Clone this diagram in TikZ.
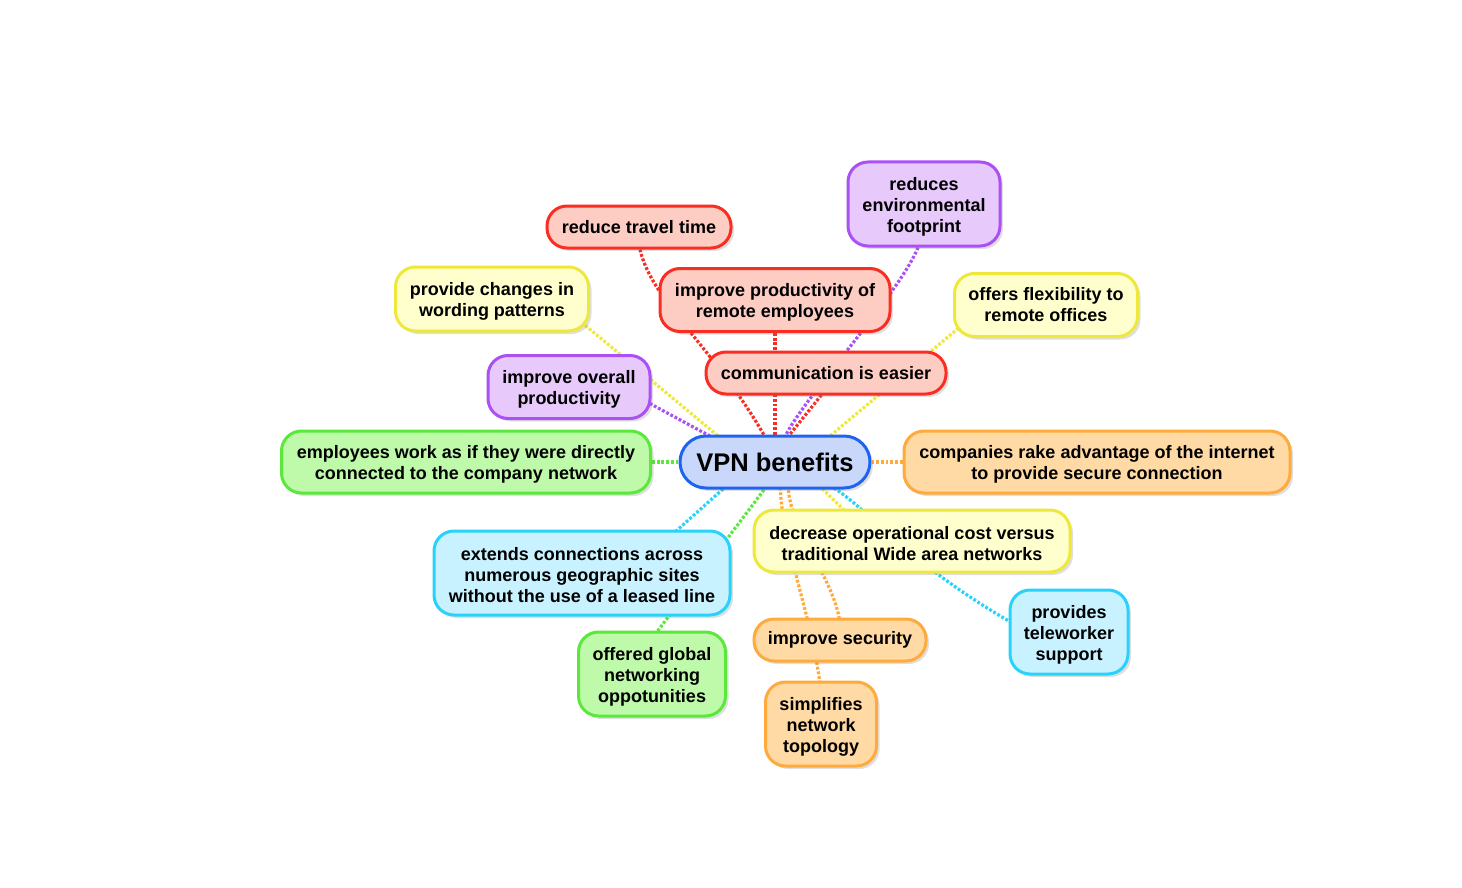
\documentclass[tikz,border=0pt]{standalone}
\usepackage{fontspec}
\setmainfont{Liberation Sans}
\usetikzlibrary{backgrounds,shadows}
\definecolor{redB}{RGB}{250,45,35}
\definecolor{redF}{RGB}{253,205,196}
\definecolor{purB}{RGB}{170,80,245}
\definecolor{purF}{RGB}{231,202,251}
\definecolor{yelB}{RGB}{238,232,60}
\definecolor{yelF}{RGB}{255,255,205}
\definecolor{grnB}{RGB}{90,232,60}
\definecolor{grnF}{RGB}{190,250,170}
\definecolor{oraB}{RGB}{255,170,60}
\definecolor{oraF}{RGB}{255,218,165}
\definecolor{cyaB}{RGB}{40,210,250}
\definecolor{cyaF}{RGB}{200,242,255}
\definecolor{bluB}{RGB}{30,100,240}
\definecolor{bluF}{RGB}{200,215,250}
\newcommand{\toppad}{\mbox{}\\[-3pt]}
\tikzset{
  box/.style={draw, line width=3pt, rounded corners=20pt, align=center, inner sep=0pt,
    font=\fontsize{18}{21}\selectfont\bfseries,
    drop shadow={shadow xshift=3pt, shadow yshift=-3pt, opacity=0.25}},
  redbox/.style={box, draw=redB, fill=redF},
  purbox/.style={box, draw=purB, fill=purF},
  yelbox/.style={box, draw=yelB, fill=yelF},
  grnbox/.style={box, draw=grnB, fill=grnF},
  orabox/.style={box, draw=oraB, fill=oraF},
  cyabox/.style={box, draw=cyaB, fill=cyaF},
  conn/.style={line width=3.2pt, dash pattern=on 2.8pt off 1.9pt},
}
\begin{document}
\begin{tikzpicture}[x=1pt,y=-1pt]
\useasboundingbox (0,0) rectangle (1462,888);

\node[box, draw=bluB, fill=bluF, rounded corners=26pt, minimum width=190pt, minimum height=52pt,
  font=\fontsize{25.5}{30}\selectfont\bfseries] (vpn) at (775,462) {VPN benefits};

\node[redbox, minimum width=240pt, minimum height=42pt] (comm) at (826,373) {communication is easier};
\node[redbox, minimum width=230pt, minimum height=63pt] (prod) at (775,300) {\toppad improve productivity of\\remote employees};
\node[redbox, minimum width=184pt, minimum height=42pt] (travel) at (639,227) {reduce travel time};
\node[purbox, minimum width=152pt, minimum height=84pt] (env) at (924,204) {\toppad reduces\\environmental\\footprint};
\node[yelbox, minimum width=183pt, minimum height=63pt] (flex) at (1046,305) {offers flexibility to\\remote offices};
\node[yelbox, minimum width=193pt, minimum height=64pt] (prov) at (492,299) {\toppad provide changes in\\wording patterns};
\node[purbox, minimum width=162pt, minimum height=63pt] (overall) at (569,387) {\toppad improve overall\\productivity};
\node[grnbox, minimum width=369pt, minimum height=62pt] (emp) at (466,462) {\toppad employees work as if they were directly\\connected to the company network};
\node[orabox, minimum width=386pt, minimum height=62pt] (comp) at (1097,462) {\toppad companies rake advantage of the internet\\to provide secure connection};
\node[yelbox, minimum width=316pt, minimum height=62pt] (dec) at (912,541) {\toppad decrease operational cost versus\\traditional Wide area networks};
\node[cyabox, minimum width=296pt, minimum height=84pt] (ext) at (582,573) {\toppad extends connections across\\numerous geographic sites\\without the use of a leased line};
\node[grnbox, minimum width=147pt, minimum height=84pt] (glob) at (652,674) {\toppad offered global\\networking\\oppotunities};
\node[orabox, minimum width=172pt, minimum height=42pt] (sec) at (840,640) {improve security};
\node[orabox, minimum width=111pt, minimum height=84pt] (simp) at (821,724) {\toppad simplifies\\network\\topology};
\node[cyabox, minimum width=118pt, minimum height=84pt] (tele) at (1069,632) {\toppad provides\\teleworker\\support};

\begin{pgfonlayer}{background}
\fill[white] (0,0) rectangle (1462,888);
\draw[conn, redB] ([shift={(1,0)}]travel.south) .. controls +(12,52) and +(-51,-90) .. ([shift={(-9,4)}]vpn.north);
\draw[conn, redB] (prod) -- (vpn);
\draw[conn, redB] ([shift={(13,0)}]comm.center) -- ([shift={(10,6)}]vpn.north);
\draw[conn, purB] ([shift={(-6,0)}]env.south) .. controls +(-18,45) and +(20,-40) .. ([shift={(10,2)}]vpn.north);
\draw[conn, yelB] ([shift={(20,-22)}]flex.south west) -- ([shift={(52,4)}]vpn.north);
\draw[conn, yelB] ([shift={(-19,-19)}]prov.south east) -- ([shift={(-55,3)}]vpn.north);
\draw[conn, purB] ([shift={(-10,-21)}]overall.south east) -- ([shift={(-55,7)}]vpn.north);
\draw[conn, grnB] (emp) -- (vpn);
\draw[conn, oraB] (comp) -- (vpn);
\draw[conn, cyaB] ([shift={(83,-32)}]ext.center) -- ([shift={(-47,-5)}]vpn.south);
\draw[conn, grnB] ([shift={(0,8)}]glob.north) -- ([shift={(-7,-5)}]vpn.south);
\draw[conn, oraB] ([shift={(-1,3)}]simp.north) .. controls +(-10,-75) and +(2,63) .. ([shift={(5,-6)}]vpn.south);
\draw[conn, oraB] ([shift={(0,6)}]sec.north) .. controls +(-5,-45) and +(0,45) .. ([shift={(13,-6)}]vpn.south);
\draw[conn, yelB] ([shift={(-61,-24)}]dec.center) -- ([shift={(43,-5)}]vpn.south);
\draw[conn, cyaB] ([shift={(55,-4)}]vpn.south) .. controls +(40,24) and +(-107,-62) .. ([shift={(2,-10)}]tele.west);
\end{pgfonlayer}
\end{tikzpicture}
\end{document}
